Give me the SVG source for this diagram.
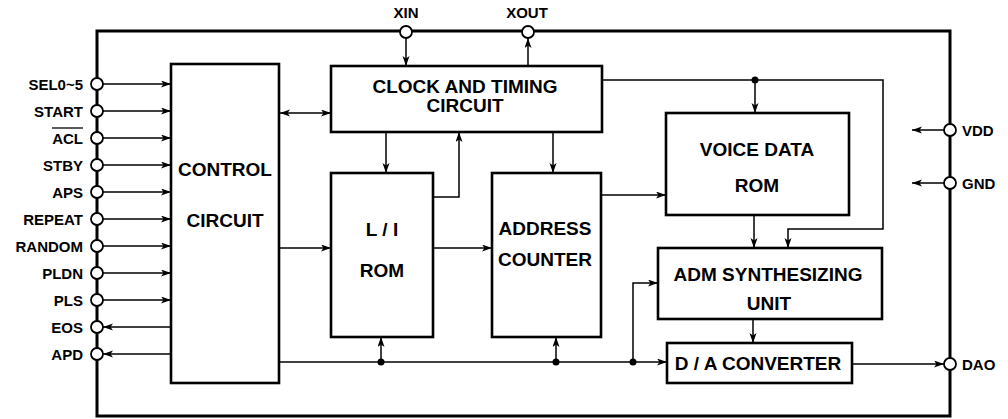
<svg xmlns="http://www.w3.org/2000/svg" width="1008" height="419" viewBox="0 0 1008 419">
<style>
.frame{fill:none;stroke:#000;stroke-width:3}
.box{fill:#fff;stroke:#000;stroke-width:2.6}
.pin{fill:#fff;stroke:#000;stroke-width:1.8}
.w{fill:none;stroke:#000;stroke-width:1.5}
.a{marker-end:url(#ah)}
.d{marker-start:url(#ah);marker-end:url(#ah)}
.dot{fill:#000}
text{font-family:"Liberation Sans",Arial,sans-serif;font-weight:bold;fill:#000}
.pl{font-size:15px}
.bl{font-size:19px;text-anchor:middle}
.l{text-anchor:end}
.c{text-anchor:middle}
</style>
<defs>
<marker id="ah" markerUnits="userSpaceOnUse" markerWidth="11" markerHeight="8" refX="10" refY="3.5" orient="auto-start-reverse">
<path d="M0,0 L10,3.5 L0,7 L2.5,3.5 z" fill="#000"/>
</marker>
</defs>
<rect class="frame" x="97" y="31" width="853" height="385"/>

<g id="connectors">
<line class="w a" x1="103" y1="84" x2="171" y2="84"/>
<line class="w a" x1="103" y1="111" x2="171" y2="111"/>
<line class="w a" x1="103" y1="138" x2="171" y2="138"/>
<line class="w a" x1="103" y1="165" x2="171" y2="165"/>
<line class="w a" x1="103" y1="192" x2="171" y2="192"/>
<line class="w a" x1="103" y1="219" x2="171" y2="219"/>
<line class="w a" x1="103" y1="246" x2="171" y2="246"/>
<line class="w a" x1="103" y1="273" x2="171" y2="273"/>
<line class="w a" x1="103" y1="300" x2="171" y2="300"/>
<line class="w a" x1="171" y1="327" x2="103" y2="327"/>
<line class="w a" x1="171" y1="354" x2="103" y2="354"/>
<line class="w d" x1="280" y1="113" x2="331" y2="113"/>
<line class="w a" x1="280" y1="248" x2="331" y2="248"/>
<line class="w a" x1="406" y1="38" x2="406" y2="66"/>
<line class="w a" x1="528" y1="66" x2="528" y2="38"/>
<line class="w a" x1="386" y1="132" x2="386" y2="173"/>
<polyline class="w a" points="433,197 459,197 459,132"/>
<line class="w a" x1="553" y1="132" x2="553" y2="173"/>
<line class="w a" x1="433" y1="248" x2="492" y2="248"/>
<line class="w a" x1="601" y1="195" x2="666" y2="195"/>
<polyline class="w a" points="602,80 883,80 883,229 788,229 788,248"/>
<line class="w a" x1="755" y1="80" x2="755" y2="113"/>
<circle class="dot" cx="755" cy="80" r="3.5"/>
<line class="w a" x1="754" y1="215" x2="754" y2="248"/>
<line class="w a" x1="753" y1="319" x2="753" y2="343"/>
<line class="w a" x1="852" y1="364" x2="944" y2="364"/>
<line class="w a" x1="944" y1="130" x2="912" y2="130"/>
<line class="w a" x1="944" y1="183" x2="912" y2="183"/>
<line class="w a" x1="279" y1="362" x2="667" y2="362"/>
<line class="w a" x1="381" y1="362" x2="381" y2="337"/>
<line class="w a" x1="556" y1="362" x2="556" y2="337"/>
<polyline class="w a" points="633,362 633,283 658,283"/>
<circle class="dot" cx="381" cy="362" r="3.5"/>
<circle class="dot" cx="556" cy="362" r="3.5"/>
<circle class="dot" cx="633" cy="362" r="3.5"/>
</g>

<g id="pins">
<circle class="pin" cx="97" cy="84" r="6"/>
<circle class="pin" cx="97" cy="111" r="6"/>
<circle class="pin" cx="97" cy="138" r="6"/>
<circle class="pin" cx="97" cy="165" r="6"/>
<circle class="pin" cx="97" cy="192" r="6"/>
<circle class="pin" cx="97" cy="219" r="6"/>
<circle class="pin" cx="97" cy="246" r="6"/>
<circle class="pin" cx="97" cy="273" r="6"/>
<circle class="pin" cx="97" cy="300" r="6"/>
<circle class="pin" cx="97" cy="327" r="6"/>
<circle class="pin" cx="97" cy="354" r="6"/>
<circle class="pin" cx="406" cy="32" r="6"/>
<circle class="pin" cx="528" cy="32" r="6"/>
<circle class="pin" cx="950" cy="130" r="6"/>
<circle class="pin" cx="950" cy="183" r="6"/>
<circle class="pin" cx="950" cy="364" r="6"/>
<text class="pl l" x="83" y="90">SEL0~5</text>
<text class="pl l" x="83" y="117">START</text>
<text class="pl l" x="83" y="144">ACL</text>
<line x1="52" y1="128" x2="83" y2="128" stroke="#000" stroke-width="1.3"/>
<text class="pl l" x="83" y="171">STBY</text>
<text class="pl l" x="83" y="198">APS</text>
<text class="pl l" x="83" y="225">REPEAT</text>
<text class="pl l" x="83" y="252">RANDOM</text>
<text class="pl l" x="83" y="279">PLDN</text>
<text class="pl l" x="83" y="306">PLS</text>
<text class="pl l" x="83" y="333">EOS</text>
<text class="pl l" x="83" y="360">APD</text>
<text class="pl c" x="406" y="18">XIN</text>
<text class="pl c" x="527" y="18">XOUT</text>
<text class="pl" x="962" y="136">VDD</text>
<text class="pl" x="962" y="189">GND</text>
<text class="pl" x="962" y="370">DAO</text>
</g>

<g id="control">
<rect class="box" x="171" y="64" width="108" height="319"/>
<text class="bl" x="225" y="176">CONTROL</text>
<text class="bl" x="225" y="227">CIRCUIT</text>
</g>
<g id="clock">
<rect class="box" x="331" y="66" width="271" height="66"/>
<text class="bl" x="465" y="93">CLOCK AND TIMING</text>
<text class="bl" x="465" y="112">CIRCUIT</text>
</g>
<g id="lirom">
<rect class="box" x="331" y="173" width="102" height="164"/>
<text class="bl" x="382" y="236">L / I</text>
<text class="bl" x="382" y="277">ROM</text>
</g>
<g id="address">
<rect class="box" x="492" y="173" width="109" height="164"/>
<text class="bl" x="545" y="235">ADDRESS</text>
<text class="bl" x="545" y="266">COUNTER</text>
</g>
<g id="voice">
<rect class="box" x="666" y="113" width="183" height="102"/>
<text class="bl" x="757" y="156">VOICE DATA</text>
<text class="bl" x="757" y="192">ROM</text>
</g>
<g id="adm">
<rect class="box" x="658" y="248" width="224" height="71"/>
<text class="bl" x="768" y="281">ADM SYNTHESIZING</text>
<text class="bl" x="769" y="310">UNIT</text>
</g>
<g id="da">
<rect class="box" x="667" y="343" width="185" height="40"/>
<text class="bl" x="758" y="370">D / A CONVERTER</text>
</g>
</svg>
